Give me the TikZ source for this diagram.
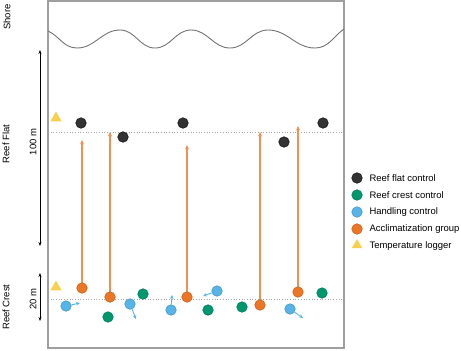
\documentclass[tikz,border=0pt]{standalone}
\usepackage{fontspec}
\setmainfont{Liberation Sans}
\usetikzlibrary{arrows.meta,shapes.geometric}
\definecolor{flatc}{RGB}{51,51,51}
\definecolor{crestc}{RGB}{0,150,110}
\definecolor{handc}{RGB}{86,180,233}
\definecolor{accc}{RGB}{236,118,38}
\definecolor{logc}{RGB}{247,208,80}

\begin{document}
\begin{tikzpicture}[x=1bp,y=-1bp,>={Stealth[length=4pt,width=3pt]},font=\fontsize{9.5}{11}\selectfont,
 dot/.style={circle,draw,line width=0.6pt,minimum size=10.5bp,inner sep=0pt},
 flat/.style={dot,fill=flatc,draw=black!90},
 crest/.style={dot,fill=crestc,draw=crestc!85!black},
 hand/.style={dot,fill=handc,draw=handc!85!black},
 acc/.style={dot,fill=accc,draw=accc!85!black},
 logger/.style={regular polygon,regular polygon sides=3,fill=logc,inner sep=0pt,minimum size=13bp},
 lab/.style={rotate=90,inner sep=0pt},
 zone/.style={gray!70,dotted,line width=0.7pt},
 mv/.style={->,handc,line width=0.9pt,>={Stealth[length=4pt,width=3.5pt]}},
 up/.style={->,accc!80,line width=1.1pt,>={Stealth[length=4.5pt,width=4pt]}}]
\useasboundingbox (0,0) rectangle (461,350);
% site frame and shoreline
\draw[gray!75,line width=1.4pt] (48,1) rectangle (344,348);
\draw[gray!90!black,line width=0.9pt] (48,31) to[out=-25,in=180] (77,48) to[out=0,in=180] (120,30)
 to[out=0,in=180] (155,48) to[out=0,in=180] (191,30) to[out=0,in=180] (230,48)
 to[out=0,in=180] (268,30) to[out=0,in=180] (315,48) to[out=0,in=-145] (344,29);
\draw[zone] (48,132) -- (344,132);
\draw[zone] (48,299) -- (344,299);
% zone labels and distances
\node[lab] (shore) at (7,17) {Shore};
\node[lab] (flatlab) at (6,144) {Reef Flat};
\node[lab] (crestlab) at (6,307) {Reef Crest};
\node[lab] (d100) at (33,142) {100 m};
\node[lab] (d20) at (33,299) {20 m};
\coordinate (a1) at (40,50);
\coordinate (a2) at (40,246);
\coordinate (a3) at (40,273);
\coordinate (a4) at (40,321);
\draw[<->,line width=0.8pt] (a1) -- (a2);
\draw[<->,line width=0.8pt] (a3) -- (a4);
% loggers
\node[logger] (L1) at (56,118) {};
\node[logger] (L2) at (56,287) {};
% reef flat controls
\foreach \n/\x/\y in {F1/81/123,F2/123/137,F3/183/123,F4/284/142,F5/323/123}
 \node[flat] (\n) at (\x,\y) {};
% reef crest controls
\foreach \n/\x/\y in {C1/108/317,C2/143/294,C3/208/310,C4/242/307,C5/322/293}
 \node[crest] (\n) at (\x,\y) {};
% acclimatization group, moved up to the flat
\foreach \n/\x/\y/\t in {A1/82/288/140,A2/110/297/132,A3/187/297/145,A4/260/305/132,A5/298/292/126} {
 \coordinate (\n top) at (\x,\t);
 \draw[up] (\x,\y) -- (\n top);
 \node[acc] (\n) at (\x,\y) {};
}
% handling controls, moved within the crest
\foreach \n/\x/\y/\u/\v in {H1/66/306/80/303,H2/130/304/136/319,H3/171/310/172/295,H4/217/291/203/296,H5/290/309/303/318} {
 \node[hand] (\n) at (\x,\y) {};
 \coordinate (\n end) at (\u,\v);
 \draw[mv] (\n) -- (\n end);
}
% legend
\node[flat] (kflat) at (357,178) {};
\node[crest] (kcrest) at (357,195) {};
\node[hand] (khand) at (357,212) {};
\node[acc] (kacc) at (357,229) {};
\node[logger,minimum size=12bp] (klog) at (357,245) {};
\node[anchor=west] (tflat) at (366,178) {Reef flat control};
\node[anchor=west] (tcrest) at (366,195) {Reef crest control};
\node[anchor=west] (thand) at (366,212) {Handling control};
\node[anchor=west] (tacc) at (366,229) {Acclimatization group};
\node[anchor=west] (tlog) at (366,246) {Temperature logger};
\end{tikzpicture}
\end{document}
